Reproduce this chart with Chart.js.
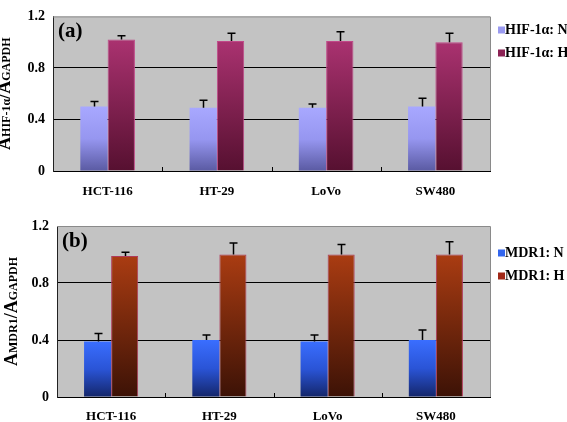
<!DOCTYPE html>
<html><head><meta charset="utf-8">
<script src="https://cdn.jsdelivr.net/npm/chart.js@4"></script>
<style>
html,body{margin:0;padding:0;background:#fff;width:567px;height:422px;overflow:hidden}
#c1{position:absolute;left:0;top:0}
#c2{position:absolute;left:0;top:200px}
</style></head><body>
<canvas id="c1" width="567" height="200"></canvas>
<canvas id="c2" width="567" height="222"></canvas>
<script>
const categories = ['HCT-116','HT-29','LoVo','SW480'];
const yTicks = [0, 0.4, 0.8, 1.2];
const hifN = [0.50, 0.49, 0.49, 0.50];
const hifNErr = [0.04, 0.06, 0.03, 0.065];
const hifH = [1.02, 1.01, 1.01, 1.00];
const hifHErr = [0.03, 0.06, 0.07, 0.07];
const mdrN = [0.39, 0.40, 0.39, 0.40];
const mdrNErr = [0.055, 0.035, 0.045, 0.07];
const mdrH = [0.99, 1.00, 1.00, 1.00];
const mdrHErr = [0.025, 0.08, 0.07, 0.09];

const SERIF = '"Liberation Serif","Times New Roman",serif';

function gradFn(stops, fallback){
  return function(ctx){
    const chart = ctx.chart;
    if(!chart.chartArea || ctx.raw === undefined) return fallback;
    const ys = chart.scales.y;
    const y0 = ys.getPixelForValue(ctx.raw), y1 = ys.getPixelForValue(0);
    const g = chart.ctx.createLinearGradient(0, y0, 0, y1);
    stops.forEach(s => g.addColorStop(s[0], s[1]));
    return g;
  };
}

const framePlugin = {
  id: 'frame',
  beforeDraw(chart){
    const {ctx, chartArea:a} = chart;
    ctx.save();
    ctx.fillStyle = '#c3c3c3';
    ctx.fillRect(a.left, a.top, a.right-a.left, a.bottom-a.top);
    ctx.restore();
  },
  afterDraw(chart, args, opts){
    const {ctx, chartArea:a} = chart;
    ctx.save();
    ctx.strokeStyle = '#8a8a8a'; ctx.lineWidth = 1;
    ctx.beginPath();
    ctx.moveTo(a.left, a.top+0.5); ctx.lineTo(a.right+0.5, a.top+0.5); ctx.lineTo(a.right+0.5, a.bottom);
    ctx.stroke();
    const xs = chart.scales.x;
    ctx.strokeStyle = '#000';
    for(let i=0;i<categories.length-1;i++){
      const xb = Math.round((xs.getPixelForValue(i)+xs.getPixelForValue(i+1))/2)+0.5;
      ctx.beginPath(); ctx.moveTo(xb, a.bottom); ctx.lineTo(xb, a.bottom-4); ctx.stroke();
    }
    ctx.fillStyle = '#000';
    ctx.font = 'bold 21px ' + SERIF;
    ctx.textBaseline = 'alphabetic'; ctx.textAlign = 'left';
    ctx.fillText(opts.panel, a.left+5, a.top+21);
    ctx.font = 'bold 14px ' + SERIF;
    ctx.textBaseline = 'middle';
    opts.legend.forEach((l, i) => {
      const y = opts.legendY + i*23;
      ctx.fillStyle = l.color;
      ctx.fillRect(opts.legendX, y-3.5, 7, 7);
      ctx.fillStyle = '#000';
      ctx.fillText(l.text, opts.legendX+7, y);
    });
    const parts = opts.title;
    let total = 0;
    parts.forEach(p => { ctx.font = 'bold ' + p.size + 'px ' + SERIF; p.w = ctx.measureText(p.t).width; total += p.w; });
    ctx.translate(opts.titleX, (a.top+a.bottom)/2);
    ctx.rotate(-Math.PI/2);
    let x = -total/2;
    ctx.textBaseline = 'alphabetic';
    parts.forEach(p => { ctx.font = 'bold ' + p.size + 'px ' + SERIF; ctx.fillText(p.t, x, 0); x += p.w; });
    ctx.restore();
  }
};

const errPlugin = {
  id: 'errbars',
  afterDatasetsDraw(chart){
    const {ctx} = chart;
    const ys = chart.scales.y;
    ctx.save();
    ctx.strokeStyle = '#000'; ctx.lineWidth = 1.5;
    chart.data.datasets.forEach((ds, di) => {
      const meta = chart.getDatasetMeta(di);
      meta.data.forEach((el, i) => {
        const v = ds.data[i], e = ds.err[i];
        const x = Math.round(el.x)+0.5;
        const yt = ys.getPixelForValue(v + e);
        ctx.beginPath();
        ctx.moveTo(x, el.y); ctx.lineTo(x, yt);
        ctx.moveTo(x-4, yt); ctx.lineTo(x+4, yt);
        ctx.stroke();
      });
    });
    ctx.restore();
  }
};

function makeChart(id, o){
  return new Chart(document.getElementById(id), {
    type: 'bar',
    data: {
      labels: categories,
      datasets: [
        {label: o.legend[0].text, data: o.n, err: o.nErr, backgroundColor: gradFn(o.nStops, o.legend[0].color), borderWidth: 0},
        {label: o.legend[1].text, data: o.h, err: o.hErr, backgroundColor: gradFn(o.hStops, o.legend[1].color), borderColor: o.hBorder, borderWidth: 1}
      ]
    },
    options: {
      responsive: false, animation: false, devicePixelRatio: 1,
      layout: {padding: {top: o.padTop, right: 77, bottom: 0, left: 0}},
      categoryPercentage: 0.5, barPercentage: 1.0,
      plugins: {legend: {display: false}, tooltip: {enabled: false},
        frame: {panel: o.panel, legend: o.legend, legendX: o.legendX, legendY: o.legendY, title: o.title, titleX: o.titleX}},
      scales: {
        x: {
          grid: {display: false, drawTicks: false},
          border: {display: true, color: '#000', width: 1},
          ticks: {color: '#000', font: {family: SERIF, weight: 'bold', size: 13}, padding: o.xPad, maxRotation: 0},
          afterFit(s){ s.height = o.xH; }
        },
        y: {
          min: 0, max: 1.2,
          afterBuildTicks(s){ s.ticks = yTicks.map(v => ({value: v})); },
          grid: {drawTicks: false, color: c => (c.tick && (c.tick.value === 0.4 || c.tick.value === 0.8)) ? '#000' : 'rgba(0,0,0,0)', lineWidth: 1},
          border: {display: true, color: '#222', width: 1},
          ticks: {color: '#000', font: {family: SERIF, weight: 'bold', size: 14}, padding: 8,
            callback: v => v === 0 ? '0' : v.toFixed(1)},
          afterFit(s){ s.width = o.yW; }
        }
      }
    },
    plugins: [framePlugin, errPlugin]
  });
}

makeChart('c1', {
  n: hifN, nErr: hifNErr, h: hifH, hErr: hifHErr,
  nStops: [[0,'#a8a8ff'],[0.5,'#9696f0'],[1,'#5a5aa2']],
  hStops: [[0,'#aa3270'],[1,'#561030']],
  hBorder: '#c04888',
  legend: [{text: 'HIF-1α: N', color: '#9a9af0'}, {text: 'HIF-1α: H', color: '#8c2255'}],
  legendX: 498, legendY: 30,
  panel: '(a)',
  title: [{t:'A', size:18},{t:'HIF-1α', size:12},{t:'/', size:18},{t:'A', size:18},{t:'GAPDH', size:12}],
  titleX: 10,
  padTop: 6, xH: 29, xPad: 13, yW: 53
});

makeChart('c2', {
  n: mdrN, nErr: mdrNErr, h: mdrH, hErr: mdrHErr,
  nStops: [[0,'#3a6eff'],[0.5,'#2a54d6'],[1,'#14266a']],
  hStops: [[0,'#aa3c12'],[1,'#3c1206']],
  hBorder: '#b03a5a',
  legend: [{text: 'MDR1: N', color: '#3366ee'}, {text: 'MDR1: H', color: '#a02818'}],
  legendX: 498, legendY: 53,
  panel: '(b)',
  title: [{t:'A', size:18},{t:'MDR1', size:12},{t:'/', size:18},{t:'A', size:18},{t:'GAPDH', size:12}],
  titleX: 17,
  padTop: 26, xH: 25, xPad: 12, yW: 57
});
</script>
</body></html>
